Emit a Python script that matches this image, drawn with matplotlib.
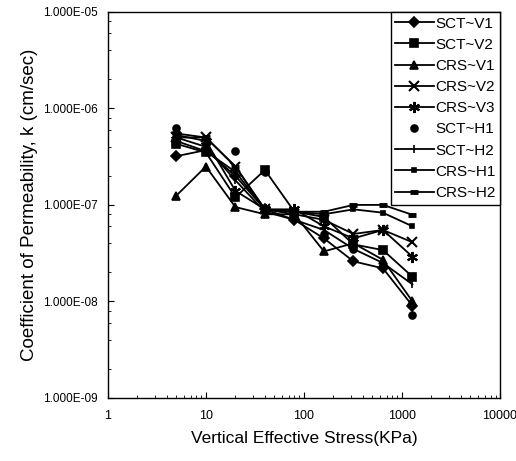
import matplotlib.pyplot as plt
from matplotlib.ticker import FixedLocator, LogLocator, NullFormatter

plt.rcParams['font.family'] = ['Liberation Sans', 'DejaVu Sans']

# vertical effective stress (KPa)
stress = [5, 10, 20, 40, 80, 160, 320, 640, 1280]

# coefficient of permeability k (cm/sec)
sct_v1 = [3.2e-7, 3.7e-7, 2.0e-7, 9.0e-8, 7.0e-8, 4.5e-8, 2.6e-8, 2.2e-8, 9.0e-9]
sct_v2 = [4.3e-7, 3.5e-7, 1.2e-7, 2.3e-7, 8.5e-8, 7.5e-8, 3.9e-8, 3.4e-8, 1.8e-8]
crs_v1 = [1.25e-7, 2.5e-7, 9.5e-8, 8.0e-8, 8.0e-8, 3.3e-8, 4.0e-8, 2.7e-8, 1.0e-8]
crs_v2 = [5.0e-7, 5.0e-7, 2.5e-7, 9.0e-8, 8.0e-8, 7.0e-8, 5.0e-8, 5.5e-8, 4.1e-8]
crs_v3 = [5.3e-7, 4.6e-7, 1.4e-7, 9.0e-8, 9.0e-8, 6.0e-8, 4.5e-8, 5.5e-8, 2.9e-8]
sct_h1 = [6.3e-7, 4.3e-7, 3.6e-7, 2.2e-7, 8.0e-8, 5.0e-8, 3.5e-8, 2.3e-8, 7.2e-9]
sct_h2 = [5.0e-7, 4.0e-7, 1.8e-7, 8.5e-8, 7.0e-8, 5.5e-8, 3.5e-8, 2.5e-8, 1.5e-8]
crs_h1 = [4.6e-7, 3.6e-7, 2.2e-7, 9.0e-8, 8.5e-8, 8.0e-8, 9.0e-8, 8.3e-8, 6.0e-8]
crs_h2 = [5.5e-7, 5.0e-7, 2.5e-7, 9.0e-8, 8.5e-8, 8.5e-8, 1.0e-7, 1.0e-7, 7.9e-8]

series = [
    ('SCT~V1', sct_v1, 'D', 5, 1.2, '-'),
    ('SCT~V2', sct_v2, 's', 6, 1.2, '-'),
    ('CRS~V1', crs_v1, '^', 6, 1.2, '-'),
    ('CRS~V2', crs_v2, 'x', 7, 1.5, '-'),
    ('CRS~V3', crs_v3, (6, 2, 0), 8, 1.5, '-'),
    ('SCT~H1', sct_h1, 'o', 5, 1.2, 'None'),
    ('SCT~H2', sct_h2, '|', 6, 1.2, '-'),
    ('CRS~H1', crs_h1, 's', 3, 1.2, '-'),
    ('CRS~H2', crs_h2, '_', 6, 3.5, '-'),
]

fig = plt.figure(figsize=(5.16, 4.61), dpi=100)
ax = fig.add_axes([0.209, 0.137, 0.760, 0.837])

for name, vals, mk, ms, mew, ls in series:
    ax.plot(stress, vals, color='black', linestyle=ls, linewidth=1.3,
            marker=mk, markersize=ms, markeredgewidth=mew, label=name)

ax.set_xscale('log')
ax.set_yscale('log')
ax.set_xlim(1, 10000)
ax.set_ylim(1e-9, 1e-5)

ax.xaxis.set_major_locator(FixedLocator([1, 10, 100, 1000, 10000]))
ax.set_xticklabels(['1', '10', '100', '1000', '10000'])
ax.xaxis.set_minor_locator(LogLocator(base=10, subs=range(2, 10)))
ax.xaxis.set_minor_formatter(NullFormatter())

yt = [1e-9, 1e-8, 1e-7, 1e-6, 1e-5]
ax.yaxis.set_major_locator(FixedLocator(yt))
ax.set_yticklabels(['1.000E-09', '1.000E-08', '1.000E-07', '1.000E-06', '1.000E-05'])
ax.yaxis.set_minor_locator(LogLocator(base=10, subs=(2, 4, 6, 8)))
ax.yaxis.set_minor_formatter(NullFormatter())

ax.tick_params(axis='x', which='major', direction='in', length=4, labelsize=9, pad=9)
ax.tick_params(axis='y', which='major', direction='in', length=4, labelsize=8.5, pad=7)
ax.tick_params(axis='both', which='minor', direction='in', length=2)
for s in ax.spines.values():
    s.set_linewidth(1.0)

ax.set_xlabel('Vertical Effective Stress(KPa)', fontsize=12.5, labelpad=6)
ax.set_ylabel('Coefficient of Permeability, k (cm/sec)', fontsize=13.5, labelpad=4)

leg = ax.legend(loc='upper right', borderaxespad=0, fontsize=11, handlelength=2.5,
                handletextpad=0.1, labelspacing=0.47, borderpad=0.3, fancybox=False,
                framealpha=1, edgecolor='black')
leg.get_frame().set_linewidth(1.0)

fig.savefig('out.png', dpi=100)
